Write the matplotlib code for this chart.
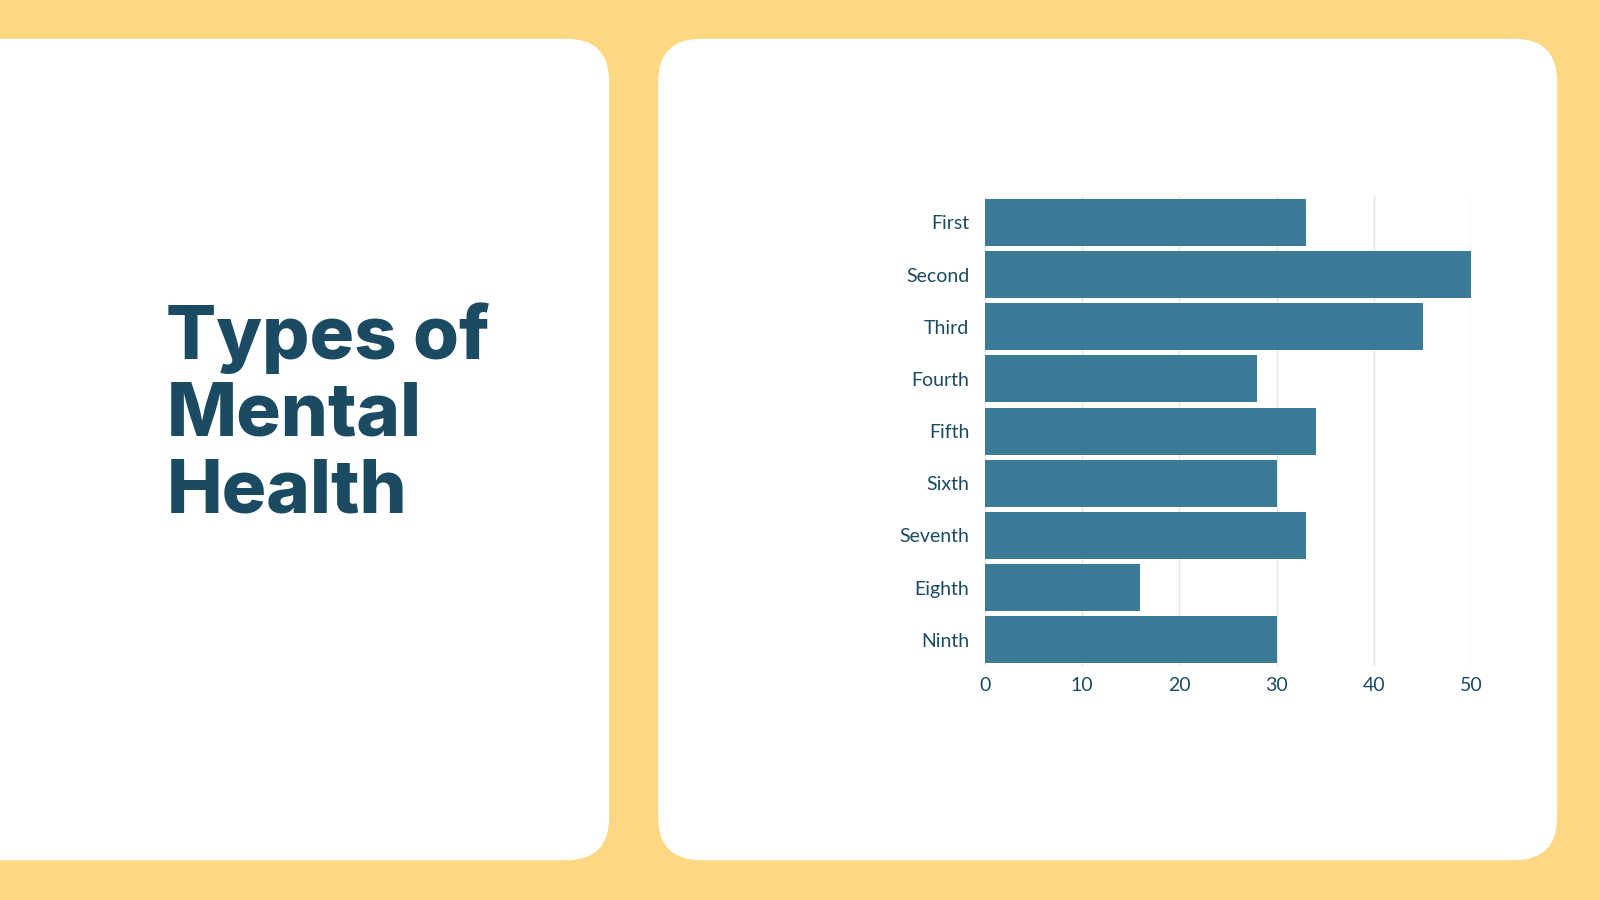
import matplotlib.pyplot as plt
from matplotlib.patches import FancyBboxPatch

# data
categories = ["First", "Second", "Third", "Fourth", "Fifth", "Sixth", "Seventh", "Eighth", "Ninth"]
values = [33, 50, 45, 28, 34, 30, 33, 16, 30]
xticks = [0, 10, 20, 30, 40, 50]
title_lines = ["Types of", "Mental", "Health"]

yellow = "#FED782"
bar_col = "#3C7B97"
text_col = "#1B4B63"
W, H = 1568, 882   # reference size, used as a pixel grid

fig = plt.figure(figsize=(16, 9), dpi=100, facecolor=yellow)

# background layer in reference pixel coords
bg = fig.add_axes([0, 0, 1, 1])
bg.set_xlim(0, W)
bg.set_ylim(H, 0)
bg.axis("off")

for x0, x1 in [(-60, 597), (645, 1526)]:
    card = FancyBboxPatch((x0, 38), x1 - x0, 843 - 38,
                          boxstyle="round,pad=0,rounding_size=42",
                          fc="white", ec="none")
    bg.add_patch(card)

# big title
for i, line in enumerate(title_lines):
    bg.text(163, 352 + i * 75, line, fontsize=53.5, fontweight="heavy",
            family="Inter", color=text_col, va="baseline", ha="left")

# the bar chart
ax = fig.add_axes([965 / W, 1 - 652.6 / H, (1442 - 965) / W, (652.6 - 192.4) / H])
ax.set_facecolor("none")
ax.barh(categories, values, height=0.9, color=bar_col, zorder=2)
ax.set_ylim(len(categories) - 0.5, -0.5)
ax.set_xlim(0, 50)
ax.set_xticks(xticks)
ax.grid(axis="x", color="#E6E6E6", lw=1, zorder=0)
for s in ax.spines.values():
    s.set_visible(False)
ax.tick_params(axis="y", length=0, pad=11, labelsize=14, labelcolor=text_col)
ax.tick_params(axis="x", length=0, pad=8, labelsize=14, labelcolor=text_col)
for lab in ax.get_xticklabels() + ax.get_yticklabels():
    lab.set_family("Lato")

fig.savefig("out.png", dpi=100, facecolor=yellow)
